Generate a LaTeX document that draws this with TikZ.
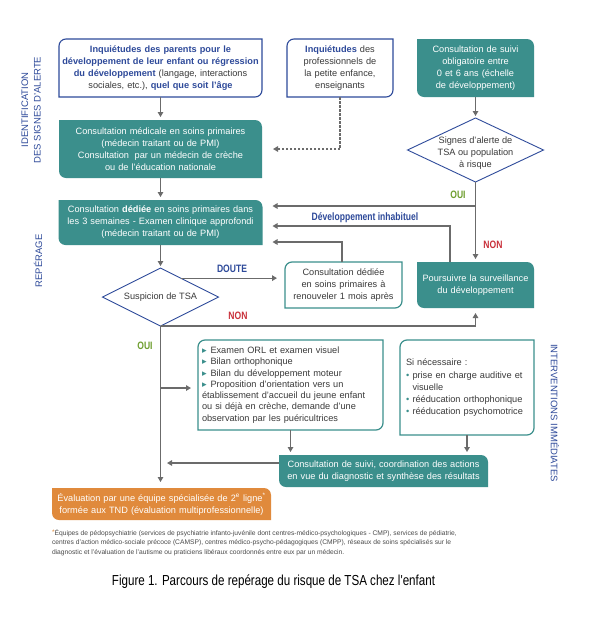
\documentclass[tikz,border=0pt]{standalone}
\usepackage{fontspec}
\setmainfont{Liberation Sans}
\newfontfamily\narrowf{Liberation Sans}[FakeStretch=0.8]
\newfontfamily\symf{DejaVu Sans}
\usetikzlibrary{arrows.meta,shapes.geometric,backgrounds}
\definecolor{tealc}{HTML}{3B8F8C}
\definecolor{bluec}{HTML}{2E4A9A}
\definecolor{orangec}{HTML}{E08A3C}
\definecolor{linec}{HTML}{6B6B6B}
\definecolor{textc}{HTML}{3A3A3A}
\definecolor{greenc}{HTML}{6E9E2E}
\definecolor{redc}{HTML}{C9303A}
\definecolor{footc}{HTML}{4A4A4A}
\def\crad{7pt}
% top-right and bottom-left rounded
\newcommand\shapeTR[2]{\path[#2] (#1.north west) -- ([xshift=-\crad]#1.north east) arc[start angle=90,end angle=0,radius=\crad] -- (#1.south east) -- ([xshift=\crad]#1.south west) arc[start angle=270,end angle=180,radius=\crad] -- cycle;}
% top-left and bottom-right rounded
\newcommand\shapeTL[2]{\path[#2] ([xshift=\crad]#1.north west) -- (#1.north east) -- ([yshift=\crad]#1.south east) arc[start angle=0,end angle=-90,radius=\crad] -- (#1.south west) -- ([yshift=-\crad]#1.north west) arc[start angle=180,end angle=90,radius=\crad] -- cycle;}
\newcommand\mainfs{\fontsize{9.2}{12}\selectfont}
\newcommand\tribul{\makebox[8.5pt][l]{{\symf\color{tealc}▸}}}
\newcommand\dotbul{\makebox[6.5pt][l]{\color{tealc}•}}
\begin{document}
\begin{tikzpicture}[x=1pt,y=-1pt,
  every node/.style={inner sep=0pt,outer sep=0pt},
  boxtxt/.style={align=center,font=\mainfs,text=textc},
  tealtxt/.style={boxtxt,text=white},
  dia/.style={diamond,draw=bluec,line width=0.9pt,fill=white},
  arr/.style={draw=linec,line width=1.25pt,-{Triangle[length=5pt,width=5.5pt]}},
  dashline/.style={dash pattern=on 2.5pt off 1.5pt},
  lbl/.style={font=\narrowf\bfseries\fontsize{10.7}{12}\selectfont},
  side/.style={font=\fontsize{9.5}{12.5}\selectfont,text=bluec,align=center}]
\useasboundingbox (0,0) rectangle (604,619);

% side labels
\node[side,rotate=90] (s1) at (31,110) {IDENTIFICATION\\DES SIGNES D'ALERTE};
\node[side,rotate=90] (s2) at (38,261) {REPÉRAGE};
\node[side,rotate=-90] (s3) at (555,413) {INTERVENTIONS IMMÉDIATES};

% top row
\node[boxtxt,text width=200pt,minimum width=203pt,minimum height=58pt] (b1) at (160.5,68)
 {\textcolor{bluec}{\bfseries Inquiétudes des parents pour le}\\
  \textcolor{bluec}{\bfseries développement de leur enfant ou régression}\\
  \textcolor{bluec}{\bfseries du développement} (langage, interactions\\
  sociales, etc.), \textcolor{bluec}{\bfseries quel que soit l'âge}};
\node[boxtxt,text width=104pt,minimum width=106pt,minimum height=58pt] (b2) at (340,68)
 {\textcolor{bluec}{\bfseries Inquiétudes} des\\professionnels de\\la petite enfance,\\enseignants};
\node[tealtxt,text width=114pt,minimum width=117pt,minimum height=58pt] (b3) at (475.5,68)
 {Consultation de suivi\\obligatoire entre\\0 et 6 ans (échelle\\de développement)};

% diamond 1
\node[dia,minimum width=136pt,minimum height=64pt] (d1) at (475.5,150) {};
\node[boxtxt] (d1t) at (475.5,153) {Signes d'alerte de\\TSA ou population\\à risque};

\node[tealtxt,text width=200pt,minimum width=203pt,minimum height=58pt] (b4) at (160.5,149)
 {Consultation médicale en soins primaires\\(médecin traitant ou de PMI)\\Consultation\hspace{2.5pt} par un médecin de crèche\\ou de l'éducation nationale};

\node[tealtxt,text width=202pt,minimum width=204pt,minimum height=45pt] (b5) at (160.5,222.5)
 {Consultation \textbf{dédiée} en soins primaires dans\\les 3 semaines - Examen clinique approfondi\\(médecin traitant ou de PMI)};

% diamond 2
\node[dia,minimum width=116pt,minimum height=58pt] (d2) at (160.5,297) {};
\node[boxtxt] (d2t) at (160.5,297) {Suspicion de TSA};

\node[boxtxt,text width=115pt,minimum width=117pt,minimum height=46pt] (b6) at (343.5,285)
 {Consultation dédiée\\en soins primaires à\\renouveler 1 mois après};
\node[tealtxt,text width=115pt,minimum width=117pt,minimum height=46pt] (b7) at (475.5,285)
 {Poursuivre la surveillance\\du développement};

\node[boxtxt,align=left,font=\fontsize{9.2}{11.3}\selectfont,text width=177pt,minimum width=185pt,minimum height=90pt] (b8) at (290.5,385)
 {\tribul Examen ORL et examen visuel\\
  \tribul Bilan orthophonique\\
  \tribul Bilan du développement moteur\\
  \tribul Proposition d'orientation vers un\\
  établissement d'accueil du jeune enfant\\
  ou si déjà en crèche, demande d'une\\
  observation par les puéricultrices};
\node[boxtxt,align=left,text width=122pt,minimum width=134pt,minimum height=95pt] (b9) at (467,387.5)
 {Si nécessaire :\\[1.5pt]
  \dotbul prise en charge auditive et\\
  \hspace*{6.5pt}visuelle\\
  \dotbul rééducation orthophonique\\
  \dotbul rééducation psychomotrice};

\node[tealtxt,text width=207pt,minimum width=209pt,minimum height=32pt] (b10) at (383.5,471)
 {Consultation de suivi, coordination des actions\\en vue du diagnostic et synthèse des résultats};
\node[tealtxt,text width=217pt,minimum width=219pt,minimum height=32pt] (b11) at (161.5,504)
 {Évaluation par une équipe spécialisée de 2\textsuperscript{e} ligne\textsuperscript{*}\\formée aux TND (évaluation multiprofessionnelle)};

% footnote and caption
\node[anchor=north west,align=left,font=\fontsize{6.7}{9.5}\selectfont,text=footc] (fn) at (52,529.5)
 {\raisebox{1pt}{\textcolor{orangec}{*}}Équipes de pédopsychiatrie (services de psychiatrie infanto-juvénile dont centres-médico-psychologiques - CMP), services de pédiatrie,\\
  centres d'action médico-sociale précoce (CAMSP), centres médico-psycho-pédagogiques (CMPP), réseaux de soins spécialisés sur le\\
  diagnostic et l'évaluation de l'autisme ou praticiens libéraux coordonnés entre eux par un médecin.};
\node[font=\narrowf\fontsize{14.5}{16}\selectfont,text=black] (cap) at (273.5,582)
 {Figure 1. Parcours de repérage du risque de TSA chez l'enfant};

% connectors
\draw[arr,shorten >=3pt] (b1.south) -- (b4.north);
\draw[arr,dashline,shorten >=11pt] (b2.south) |- (b4.east);
\draw[arr,shorten >=2pt] (b3.south) -- (d1.north);
\draw[arr,shorten >=3pt] (d1.south) -- (d1.south |- b7.north);
\coordinate (c1) at (475.5,206);
\draw[arr,shorten >=10pt] (c1) -- (c1 -| b5.east);
\coordinate (c2) at (450,226);
\draw[arr,shorten >=10pt] (c2 |- b7.north) -- (c2) -- (c2 -| b5.east);
\coordinate (c3) at (342,242);
\draw[arr,shorten >=10pt] (c3 |- b6.north) -- (c3) -- (c3 -| b5.east);
\draw[arr,shorten >=3pt] (b4.south) -- (b5.north);
\draw[arr,shorten >=2pt] (b5.south) -- (d2.north);
\draw[arr,shorten >=8pt] (d2.43.5) -- (d2.43.5 -| b6.west);
\draw[arr,shorten >=5pt] (d2.south) -| (b7.south);
\draw[arr,shorten >=6pt] (d2.south) -- (d2.south |- b11.north);
\coordinate (c4) at (160.5,388);
\draw[arr,shorten >=7pt] (c4) -- (c4 -| b8.west);
\draw[arr,shorten >=3pt] (b8.south) -- (b8.south |- b10.north);
\draw[arr,shorten >=3pt] (b9.south) -- (b9.south |- b10.north);
\coordinate (c5) at (167,463);
\draw[arr] (c5 -| b10.west) -- (c5);

% connector labels
\node[lbl,text=greenc] (l1) at (458,195) {OUI};
\node[lbl,text=redc] (l2) at (493,245) {NON};
\node[lbl,text=bluec] (l3) at (365,218) {Développement inhabituel};
\node[lbl,text=bluec] (l4) at (232,269) {DOUTE};
\node[lbl,text=redc] (l5) at (238,316) {NON};
\node[lbl,text=greenc] (l6) at (145,346) {OUI};

% box backgrounds
\begin{pgfonlayer}{background}
\fill[white] (0,0) rectangle (604,619);
\shapeTL{b1}{draw=bluec,line width=1.1pt,fill=white}
\shapeTL{b2}{draw=bluec,line width=1.1pt,fill=white}
\shapeTR{b3}{fill=tealc}
\shapeTR{b4}{fill=tealc}
\shapeTR{b5}{fill=tealc}
\shapeTL{b6}{draw=tealc,line width=1.2pt,fill=white}
\shapeTR{b7}{fill=tealc}
\shapeTL{b8}{draw=tealc,line width=1.2pt,fill=white}
\shapeTL{b9}{draw=tealc,line width=1.2pt,fill=white}
\shapeTR{b10}{fill=tealc}
\shapeTR{b11}{fill=orangec}
\end{pgfonlayer}
\end{tikzpicture}
\end{document}
